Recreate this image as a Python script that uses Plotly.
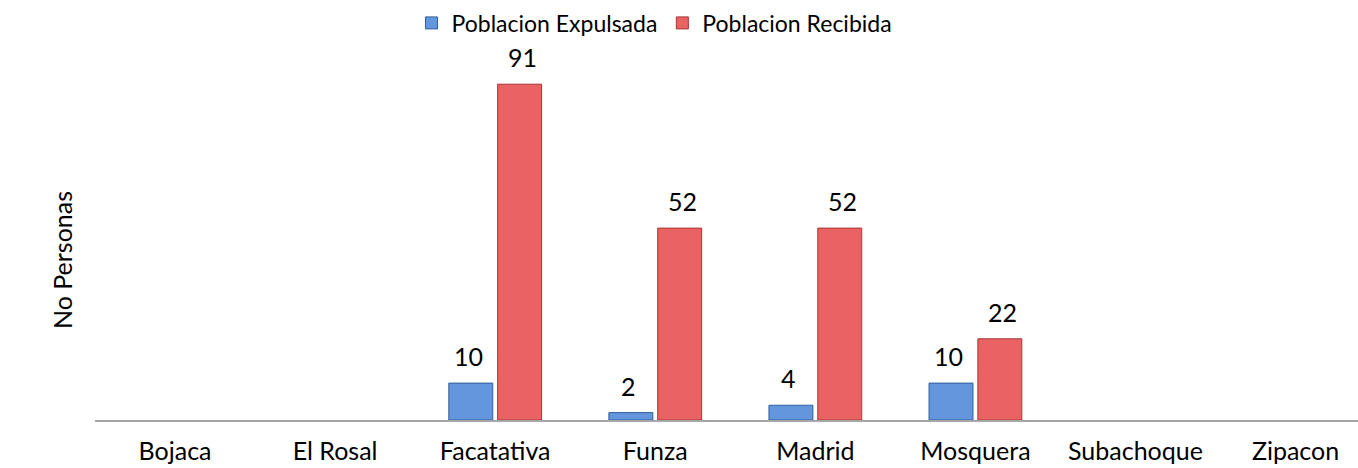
import plotly.graph_objects as go

# ---------- data ----------
municipios = ["Bojaca", "El Rosal", "Facatativa", "Funza", "Madrid", "Mosquera", "Subachoque", "Zipacon"]
expulsada = [None, None, 10, 2, 4, 10, None, None]
recibida = [None, None, 91, 52, 52, 22, None, None]

font_name = "Lato"
fsize = 25

fig = go.Figure()
fig.add_trace(go.Bar(name="Poblacion Expulsada", x=municipios, y=expulsada,
                     marker=dict(color="#6496dd", line=dict(color="#2f5f9a", width=1))))
fig.add_trace(go.Bar(name="Poblacion Recibida", x=municipios, y=recibida,
                     marker=dict(color="#ea6363", line=dict(color="#a83434", width=1))))

# data labels above the bars
annotations = []
for serie, shift in ((expulsada, -27), (recibida, 27)):
    for m, v in zip(municipios, serie):
        if v is None:
            continue
        annotations.append(dict(x=m, y=v, text=str(v), showarrow=False, xshift=shift, yshift=27,
                                font=dict(size=fsize, color="#000000")))

# y-axis title
annotations.append(dict(x=-0.026, y=0.434, xref="paper", yref="paper", text="No Personas",
                        xanchor="center", yanchor="middle",
                        textangle=-90, showarrow=False, font=dict(size=fsize, color="#000000")))

fig.update_layout(
    width=1358, height=468,
    margin=dict(l=95, r=0, t=51, b=48),
    plot_bgcolor="white", paper_bgcolor="white",
    font=dict(family=font_name, size=fsize, color="#000000"),
    barmode="group", bargap=0.39, bargroupgap=0.1,
    showlegend=True,
    legend=dict(orientation="h", x=0.443, xanchor="center", y=1.076, yanchor="middle",
                font=dict(size=23), itemwidth=30, tracegroupgap=0),
    annotations=annotations,
)
fig.update_xaxes(range=[-0.5, 7.39], showline=True, linecolor="#a6a6a6", linewidth=2,
                 ticks="outside", ticklen=8, tickcolor="rgba(0,0,0,0)", showgrid=False,
                 tickfont=dict(size=fsize), automargin=False)
fig.update_yaxes(range=[0, 100], showgrid=False, zeroline=False, showticklabels=False, showline=False)

fig.write_html("out.html", config={"displayModeBar": False},
               post_script="document.body.style.margin='0';")
